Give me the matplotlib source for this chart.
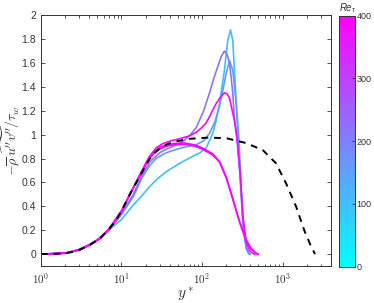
import numpy as np
import matplotlib
matplotlib.use('Agg')
import matplotlib.pyplot as plt
from matplotlib import cm
from matplotlib.colors import Normalize

# reference incompressible channel (dashed)
yp_ref = [1, 1.5, 2, 2.5, 3, 4, 5.4, 7, 8.5, 10, 12.7, 16.8, 22, 26, 30, 37, 45, 70, 120, 200, 350, 570, 830, 1110, 1470, 1860, 2260, 2535]
uv_ref = [0, 0.002, 0.007, 0.018, 0.035, 0.075, 0.13, 0.21, 0.28, 0.36, 0.5, 0.65, 0.79, 0.85, 0.885, 0.92, 0.94, 0.965, 0.975, 0.97, 0.93, 0.87, 0.76, 0.59, 0.40, 0.20, 0.065, 0]

# Re_tau ~ 100
yp_c1 = [1, 2, 3, 4, 5, 7, 10, 14, 18, 22, 28, 36, 46, 58, 75, 93, 113, 136, 150, 165, 190, 209, 226, 241, 253, 266, 279, 300, 322, 340, 355, 372, 385]
uv_c1 = [0, 0.008, 0.035, 0.075, 0.115, 0.2, 0.29, 0.41, 0.49, 0.56, 0.63, 0.69, 0.735, 0.775, 0.815, 0.845, 0.89, 1.01, 1.12, 1.26, 1.54, 1.79, 1.877, 1.79, 1.54, 1.26, 0.98, 0.6, 0.26, 0.12, 0.05, 0.012, 0]

# Re_tau ~ 160
yp_c2 = [1, 2, 3, 4, 5, 7, 10, 14, 18, 22.4, 27, 32.6, 40, 50, 65, 85, 105, 124, 145, 165, 185, 199, 220, 241, 266, 285, 300, 322, 355, 375, 390]
uv_c2 = [0, 0.008, 0.04, 0.08, 0.12, 0.2, 0.33, 0.48, 0.64, 0.74, 0.8, 0.835, 0.86, 0.88, 0.9, 0.915, 0.95, 1.01, 1.11, 1.24, 1.4, 1.51, 1.62, 1.54, 1.26, 1.0, 0.7, 0.28, 0.06, 0.015, 0]

# Re_tau ~ 220
yp_c3 = [1, 2, 3, 4, 5, 7, 10, 14, 18, 22.4, 30, 39.6, 50, 60, 72, 85, 105, 124, 140, 157, 175, 190, 205, 220, 241, 253, 272, 300, 322, 355, 380, 395]
uv_c3 = [0, 0.008, 0.04, 0.08, 0.12, 0.2, 0.34, 0.5, 0.66, 0.77, 0.85, 0.89, 0.92, 0.95, 1.0, 1.06, 1.2, 1.35, 1.47, 1.57, 1.66, 1.70, 1.67, 1.60, 1.35, 1.12, 0.97, 0.62, 0.26, 0.05, 0.01, 0]

# Re_tau ~ 400, peaked
yp_c4 = [1, 2, 3, 4, 5.4, 7, 10, 12.7, 16.8, 22.4, 27, 32.6, 42, 52.7, 70, 85, 100, 113, 124, 137, 150, 168, 190, 205, 220, 241, 253, 272, 300, 322, 355, 390, 420, 450]
uv_c4 = [0, 0.007, 0.035, 0.075, 0.13, 0.21, 0.36, 0.5, 0.66, 0.82, 0.89, 0.925, 0.95, 0.965, 0.99, 1.02, 1.06, 1.1, 1.15, 1.21, 1.26, 1.31, 1.35, 1.34, 1.305, 1.18, 1.12, 0.97, 0.65, 0.32, 0.1, 0.03, 0.01, 0]

# Re_tau ~ 400, plateau (two nearly overlapping runs)
yp_c5 = [1, 2, 3, 4, 5.4, 7, 10, 12.7, 16.8, 22, 26, 30, 37, 45, 60, 80, 100, 136, 165, 200, 241, 292, 350, 410, 471, 500]
uv_c5 = [0, 0.007, 0.035, 0.075, 0.13, 0.21, 0.36, 0.5, 0.65, 0.8, 0.85, 0.88, 0.905, 0.915, 0.92, 0.905, 0.88, 0.83, 0.77, 0.64, 0.46, 0.27, 0.12, 0.04, 0.008, 0]
yp_c6 = [1, 2, 3, 4, 5.4, 7, 10, 12.7, 16.8, 22, 26, 30, 37, 45, 60, 80, 100, 136, 165, 200, 241, 292, 350, 410, 460, 485]
uv_c6 = [0, 0.007, 0.035, 0.075, 0.13, 0.21, 0.36, 0.5, 0.66, 0.81, 0.86, 0.895, 0.915, 0.925, 0.93, 0.915, 0.89, 0.84, 0.775, 0.645, 0.465, 0.275, 0.125, 0.045, 0.012, 0]

re_tau = [100, 160, 220, 390, 400, 395]
curves = [(yp_c1, uv_c1), (yp_c2, uv_c2), (yp_c3, uv_c3), (yp_c4, uv_c4), (yp_c5, uv_c5), (yp_c6, uv_c6)]
xtick_vals = [1, 10, 100, 1000]
xtick_labels = [r'$\mathsf{10^{0}}$', r'$\mathsf{10^{1}}$', r'$\mathsf{10^{2}}$', r'$\mathsf{10^{3}}$']
ytick_vals = [0, 0.2, 0.4, 0.6, 0.8, 1, 1.2, 1.4, 1.6, 1.8, 2]
ytick_labels = ['0', '0.2', '0.4', '0.6', '0.8', '1', '1.2', '1.4', '1.6', '1.8', '2']
cb_ticks = [0, 100, 200, 300, 400]

txt = '#333333'
plt.rcParams['font.family'] = ['Liberation Sans', 'DejaVu Sans']
plt.rcParams['mathtext.fontset'] = 'cm'

fig = plt.figure(figsize=(3.74, 3.03), dpi=100)
ax = fig.add_axes([0.1096, 0.122, 0.7754, 0.828])

norm = Normalize(0, 400)
cmap = plt.get_cmap('cool')
for (yp, uv), re in zip(curves, re_tau):
    ax.plot(yp, uv, color=cmap(norm(re)), lw=1.2, solid_joinstyle='round')
ax.plot(yp_ref, uv_ref, '--', color='k', lw=1.4, dashes=(3.5, 3))

ax.set_xscale('log')
ax.set_xlim(1, 4000)
ax.set_ylim(-0.1, 2)
ax.set_xticks(xtick_vals)
ax.set_xticklabels(xtick_labels)
ax.set_yticks(ytick_vals)
ax.set_yticklabels(ytick_labels)
ax.tick_params(which='both', direction='in', top=True, right=True, labelsize=7.5, colors=txt, width=0.6)
ax.tick_params(which='major', length=3)
ax.tick_params(which='minor', length=1.8)
ax.tick_params(axis='x', labelsize=8, pad=4)
for s in ax.spines.values():
    s.set_color(txt)
    s.set_linewidth(0.7)
ax.set_xlabel('$y^*$', fontsize=11, color=txt, labelpad=-1)
ax.set_ylabel(r"$-\overline{\rho}\,\widetilde{u''v''}/\tau_w$", fontsize=10, color=txt)
ax.yaxis.set_label_coords(-0.065, 0.5)

cax = fig.add_axes([0.907, 0.12, 0.041, 0.828])
cb = fig.colorbar(cm.ScalarMappable(norm=norm, cmap=cmap), cax=cax)
cb.set_ticks(cb_ticks)
cax.tick_params(direction='in', labelsize=6.5, colors=txt, length=2.5, width=0.6, pad=1.5)
cb.outline.set_edgecolor(txt)
cb.outline.set_linewidth(0.7)
fig.text(0.925, 0.975, 'Re', fontsize=7, style='italic', color=txt, ha='center', va='center')
fig.text(0.944, 0.965, '\u03c4', fontsize=5, style='italic', color=txt, ha='center', va='center')

fig.savefig('out.png', dpi=100)
